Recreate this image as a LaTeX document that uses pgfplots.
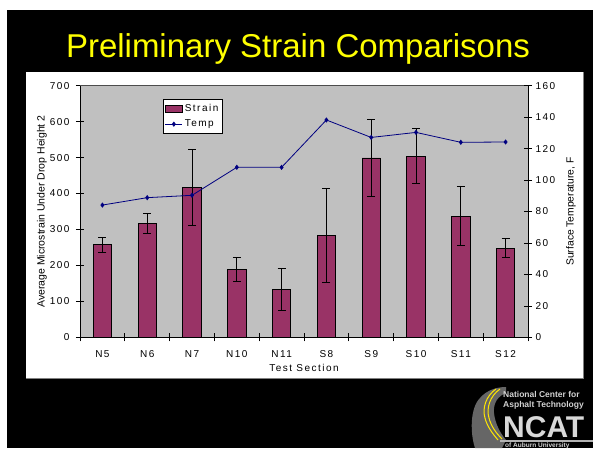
\documentclass[border=0pt]{standalone}
\usepackage{fontspec}
\setmainfont{Liberation Sans}
\newfontfamily\spaced[LetterSpace=15]{Liberation Sans}
\usepackage{pgfplots}
\pgfplotsset{compat=1.18}
\definecolor{plum}{HTML}{993366}
\definecolor{navyline}{HTML}{000080}
\definecolor{plotgray}{HTML}{C0C0C0}
\definecolor{titleyellow}{HTML}{FFFF00}

\begin{document}
\begin{tikzpicture}[x=1pt,y=1pt]
% slide background
\fill[white] (0,0) rectangle (593,448);
\fill[black] (7,0) rectangle (593,438);
\fill[white] (26,70) rectangle (583,376);
\draw[gray, line width=1pt] (26,70) -- (583,70) -- (583,376);
\node[text=titleyellow, anchor=base, font=\fontsize{33}{36}\selectfont] at (298,390) {Preliminary Strain Comparisons};

% strain (left axis)
\begin{axis}[
  at={(80pt,110.7pt)}, anchor=south west,
  scale only axis, width=448pt, height=251.6pt,
  xmin=0.5, xmax=10.5, ymin=0, ymax=700,
  axis x line*=bottom, axis y line*=left,
  axis line style={black, line width=0.8pt, -},
  axis background/.style={fill=plotgray},
  xtick={1,...,10},
  xticklabels={N5,N6,N7,N10,N11,S8,S9,S10,S11,S12},
  major x tick style={draw=none},
  minor xtick={0.5,1.5,...,10.5},
  ytick={0,100,...,700},
  tick align=center, major tick length=8pt, minor tick length=8pt,
  tick style={black, line width=0.7pt},
  /pgf/number format/assume math mode=true,
  ticklabel style={font=\spaced\fontsize{10}{12}\selectfont},
  xticklabel style={yshift=-6pt},
  yticklabel style={xshift=-3pt},
  xlabel={Test Section},
  xlabel style={font=\spaced\fontsize{10}{12}\selectfont, yshift=1pt},
  ylabel={Average Microstrain Under Drop Height 2},
  ylabel style={font=\fontsize{10.5}{12}\selectfont, yshift=-4pt},
  legend style={at={(0.1846,0.947)}, anchor=north west, draw=black, fill=white,
    font=\spaced\fontsize{10}{12}\selectfont, inner xsep=2pt, inner ysep=3pt, row sep=3pt},
  legend cell align=left,
]
\draw[gray!60!black, line width=0.6pt] (rel axis cs:0,1) -- (rel axis cs:1,1);
\addplot[ybar, bar width=18.4pt, fill=plum, draw=black, line width=0.8pt,
  area legend,
  legend image code/.code={\draw[fill=plum, draw=black, line width=0.8pt] (0pt,-3.5pt) rectangle (17pt,3.5pt);},
  error bars/.cd, y dir=both, y explicit,
  error bar style={black, line width=0.8pt},
  error mark options={rotate=90, mark size=4pt, black, line width=0.8pt}]
coordinates {
  (1,258) += (0,21) -= (0,23)
  (2,316) += (0,28) -= (0,28)
  (3,416) += (0,107) -= (0,105)
  (4,189) += (0,33) -= (0,33)
  (5,134) += (0,58) -= (0,58)
  (6,284) += (0,130) -= (0,130)
  (7,499) += (0,107) -= (0,107)
  (8,503) += (0,77) -= (0,75)
  (9,337) += (0,84) -= (0,82)
  (10,247) += (0,27) -= (0,25)
};
\addlegendentry{Strain}
\addlegendimage{navyline, line width=0.8pt, mark=diamond*, mark size=2pt}
\addlegendentry{Temp}
\end{axis}

% temperature (right axis)
\begin{axis}[
  at={(80pt,110.7pt)}, anchor=south west,
  scale only axis, width=448pt, height=251.6pt,
  xmin=0.5, xmax=10.5, ymin=0, ymax=160,
  axis x line=none, axis y line*=right,
  axis line style={black, line width=0.8pt, -},
  ytick={0,20,...,160},
  tick align=center, major tick length=8pt,
  tick style={black, line width=0.7pt},
  /pgf/number format/assume math mode=true,
  ticklabel style={font=\spaced\fontsize{10}{12}\selectfont},
  ylabel={Surface Temperature, F},
  ylabel style={font=\fontsize{10.3}{12}\selectfont, yshift=-4pt},
]
\addplot[navyline, line width=0.8pt, mark=diamond*, mark size=2pt]
coordinates {
  (1,84.1) (2,88.8) (3,90.3) (4,108.1) (5,108.1)
  (6,138.2) (7,127.1) (8,130.3) (9,124.0) (10,124.2)
};
\end{axis}

% NCAT logo
\begin{scope}
\clip (0,0) rectangle (593,448);
\fill[gray!80!black] (475,0) .. controls (470,15) and (470,40) .. (480,50)
  .. controls (485,56) and (494,61) .. (506,61) -- (506,55)
  .. controls (498,52) and (493,45) .. (494,35)
  .. controls (495,25) and (500,15) .. (506,8) -- (502,0) -- cycle;
\draw[yellow!90!orange, line width=1pt] (496,59) .. controls (486,52) and (482,40) .. (485,30) .. controls (487,22) and (492,15) .. (498,8);
\draw[yellow!90!orange, line width=1pt] (500,59) .. controls (490,52) and (486,40) .. (489,30) .. controls (491,22) and (496,15) .. (502,9);
\fill[gray!60] (500,6) rectangle (593,8);
\node[anchor=base west, inner sep=0pt, text=gray!35, font=\bfseries\fontsize{8.5}{9}\selectfont] at (503,51) {National Center for};
\node[anchor=base west, inner sep=0pt, text=gray!35, font=\bfseries\fontsize{8.5}{9}\selectfont] at (503,41) {Asphalt Technology};
\node[anchor=base west, inner sep=0pt, text=gray!30, font=\bfseries\fontsize{30}{30}\selectfont] at (503,11) {NCAT};
\node[anchor=base west, inner sep=0pt, text=gray!35, font=\bfseries\fontsize{6.5}{7}\selectfont] at (505,1) {of Auburn University};
\end{scope}
\pgfresetboundingbox
\useasboundingbox (0,0) rectangle (593,448);
\end{tikzpicture}
\end{document}
